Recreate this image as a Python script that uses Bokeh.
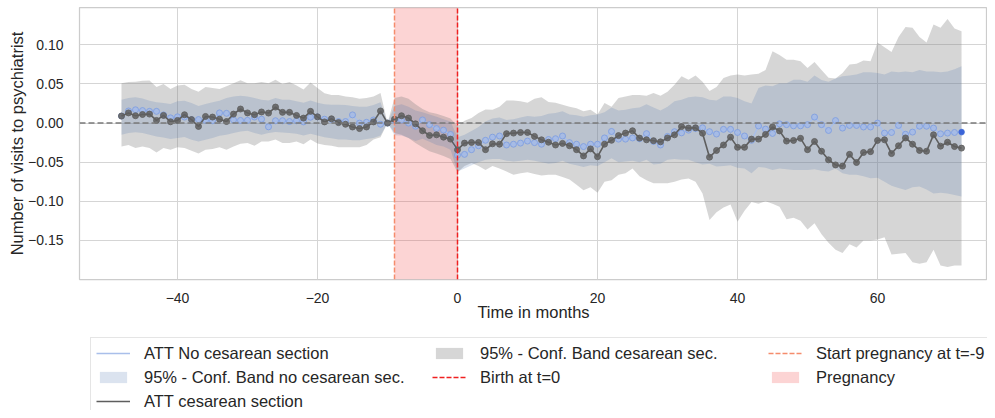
from bokeh.plotting import figure
from bokeh.layouts import column
from bokeh.models import (ColumnDataSource, Span, Legend, LegendItem, FixedTicker,
                          CustomJSTickFormatter, Range1d)
from bokeh.embed import file_html
from bokeh.resources import INLINE

# ---------------- data ----------------
months = list(range(-48, 73))

att_c = [0.009, 0.013, 0.0094, 0.011, 0.0115, 0.0034, 0.0098, 0.0017, 0.0034, 0.0107,
         0.0045, -0.0043, 0.0085, 0.0077, 0.005, 0.002, 0.0115, 0.018, 0.013, 0.0107,
         0.0142, 0.0128, 0.0205, 0.0137, 0.0137, 0.0098, 0.0064, 0.015, 0.008, 0.0015,
         0.0055, 0.0006, -0.0015, -0.005, -0.007, -0.005, 0.0015, 0.0155, 0.0, 0.005,
         0.0094, 0.0064, -0.001, -0.0098, -0.0158, -0.015, -0.018, -0.0205, -0.034, -0.0256,
         -0.0248, -0.0248, -0.034, -0.0265, -0.027, -0.0135, -0.0128, -0.012, -0.012, -0.017,
         -0.0214, -0.0245, -0.028, -0.026, -0.029, -0.034, -0.042, -0.033, -0.043, -0.027,
         -0.022, -0.016, -0.0128, -0.0098, -0.0192, -0.0214, -0.0225, -0.024, -0.019, -0.015,
         -0.0045, -0.0064, -0.006, -0.013, -0.0436, -0.035, -0.028, -0.018, -0.031, -0.031,
         -0.0205, -0.0205, -0.0145, -0.005, -0.01, -0.023, -0.0222, -0.0195, -0.034, -0.0235,
         -0.036, -0.047, -0.0535, -0.055, -0.04, -0.0504, -0.0376, -0.0365, -0.0222, -0.0214,
         -0.039, -0.029, -0.019, -0.027, -0.035, -0.036, -0.015, -0.0295, -0.0245, -0.03,
         -0.032]

att_nc = [0.009, 0.0155, 0.017, 0.016, 0.015, 0.015, 0.0105, 0.0067, 0.008, 0.0077,
          0.0045, 0.0045, 0.0035, 0.003, 0.013, 0.0125, 0.004, 0.0034, 0.0035, 0.0077,
          0.005, -0.0048, 0.003, 0.003, 0.002, 0.003, 0.0015, 0.0075, 0.008, 0.005,
          0.0045, 0.002, 0.002, 0.0105, 0.0, 0.001, 0.004, -0.0015, 0.0, 0.0034,
          0.004, 0.0, -0.004, 0.004, -0.002, -0.007, -0.009, -0.0145, -0.041, -0.04,
          -0.034, -0.029, -0.022, -0.018, -0.0165, -0.028, -0.027, -0.0256, -0.023, -0.025,
          -0.027, -0.021, -0.02, -0.0165, -0.025, -0.027, -0.03, -0.027, -0.027, -0.019,
          -0.0107, -0.0205, -0.0205, -0.019, -0.02, -0.0135, -0.0235, -0.028, -0.017, -0.011,
          -0.0125, -0.009, -0.007, -0.006, -0.011, -0.014, -0.008, -0.008, -0.012, -0.0165,
          -0.022, -0.0037, -0.0077, -0.0132, -0.001, -0.002, -0.0035, -0.0035, -0.002, 0.0077,
          -0.002, -0.0094, 0.0032, -0.0064, -0.003, -0.003, -0.005, -0.005, 0.0, -0.0128,
          -0.012, -0.003, -0.0143, -0.0115, -0.004, -0.004, -0.0064, -0.0137, -0.0128, -0.012,
          -0.0115]

c_hi = [0.051, 0.0526, 0.053, 0.054, 0.0545, 0.046, 0.05, 0.0436, 0.048, 0.049,
        0.0436, 0.04, 0.046, 0.045, 0.0436, 0.047, 0.051, 0.0547, 0.051, 0.051,
        0.0525, 0.051, 0.0555, 0.05, 0.0525, 0.048, 0.043, 0.052, 0.045, 0.038,
        0.036, 0.036, 0.034, 0.033, 0.031, 0.032, 0.034, 0.0385, 0.0, 0.032,
        0.034, 0.031, 0.024, 0.018, 0.014, 0.012, 0.009, 0.006, -0.004, 0.003,
        0.0064, 0.0128, 0.0175, 0.017, 0.021, 0.029, 0.029, 0.028, 0.026, 0.031,
        0.033, 0.027, 0.026, 0.0235, 0.021, 0.019, 0.015, 0.017, 0.011, 0.0256,
        0.021, 0.032, 0.034, 0.036, 0.036, 0.035, 0.0385, 0.035, 0.04, 0.049,
        0.06, 0.0555, 0.061, 0.053, 0.041, 0.046, 0.0575, 0.061, 0.062, 0.061,
        0.062, 0.063, 0.068, 0.092, 0.087, 0.081, 0.081, 0.079, 0.0705, 0.078,
        0.068, 0.058, 0.057, 0.064, 0.075, 0.076, 0.08, 0.079, 0.103, 0.097,
        0.091, 0.11, 0.123, 0.122, 0.11, 0.103, 0.126, 0.122, 0.133, 0.121,
        0.1175]

c_lo = [-0.03, -0.028, -0.032, -0.03, -0.032, -0.0376, -0.032, -0.034, -0.031, -0.032,
        -0.0355, -0.039, -0.034, -0.033, -0.031, -0.034, -0.03, -0.0265, -0.0256, -0.029,
        -0.0235, -0.0235, -0.021, -0.0256, -0.0256, -0.0235, -0.027, -0.021, -0.026, -0.028,
        -0.029, -0.031, -0.031, -0.031, -0.031, -0.028, -0.021, -0.018, 0.0, -0.0128,
        -0.015, -0.019, -0.0256, -0.031, -0.036, -0.039, -0.042, -0.046, -0.063, -0.055,
        -0.051, -0.055, -0.06, -0.055, -0.058, -0.062, -0.066, -0.064, -0.063, -0.065,
        -0.067, -0.066, -0.066, -0.069, -0.072, -0.079, -0.086, -0.082, -0.089, -0.075,
        -0.073, -0.066, -0.064, -0.058, -0.068, -0.073, -0.077, -0.077, -0.077, -0.075,
        -0.072, -0.071, -0.075, -0.09, -0.124, -0.114, -0.108, -0.104, -0.126, -0.112,
        -0.101, -0.103, -0.1, -0.103, -0.107, -0.123, -0.121, -0.125, -0.136, -0.128,
        -0.142, -0.153, -0.162, -0.166, -0.155, -0.159, -0.15, -0.15, -0.149, -0.146,
        -0.168, -0.167, -0.166, -0.178, -0.18, -0.178, -0.162, -0.182, -0.184, -0.182,
        -0.182]

nc_hi = [0.03, 0.032, 0.033, 0.0316, 0.0286, 0.0265, 0.0256, 0.0244, 0.028, 0.0286,
         0.0256, 0.022, 0.0244, 0.0265, 0.0286, 0.032, 0.034, 0.035, 0.034, 0.032,
         0.03, 0.029, 0.032, 0.03, 0.03, 0.028, 0.026, 0.029, 0.026, 0.024,
         0.0235, 0.0235, 0.023, 0.022, 0.021, 0.021, 0.023, 0.0265, 0.0, 0.022,
         0.024, 0.021, 0.016, 0.014, 0.011, 0.008, 0.005, 0.002, -0.018, -0.015,
         -0.01, -0.005, 0.002, 0.006, 0.007, 0.004, 0.005, 0.007, 0.009, 0.008,
         0.009, 0.012, 0.013, 0.015, 0.011, 0.01, 0.008, 0.01, 0.011, 0.014,
         0.02, 0.016, 0.017, 0.019, 0.02, 0.024, 0.02, 0.016, 0.021, 0.028,
         0.03, 0.033, 0.034, 0.033, 0.03, 0.029, 0.034, 0.034, 0.032, 0.028,
         0.025, 0.045, 0.048, 0.047, 0.051, 0.051, 0.0555, 0.0555, 0.053, 0.061,
         0.055, 0.053, 0.057, 0.06, 0.061, 0.062, 0.065, 0.065, 0.064, 0.062,
         0.066, 0.065, 0.066, 0.065, 0.068, 0.066, 0.066, 0.065, 0.066, 0.069,
         0.0726]

nc_lo = [-0.015, -0.0128, -0.0118, -0.0128, -0.015, -0.017, -0.0184, -0.0205, -0.0192, -0.0179,
         -0.0214, -0.0235, -0.0214, -0.0192, -0.0162, -0.015, -0.0128, -0.0107, -0.0098, -0.0128,
         -0.015, -0.0128, -0.0115, -0.012, -0.0128, -0.0137, -0.016, -0.0137, -0.016, -0.018,
         -0.0195, -0.021, -0.021, -0.022, -0.022, -0.0205, -0.019, -0.016, 0.0, -0.0156,
         -0.016, -0.019, -0.023, -0.02, -0.024, -0.028, -0.03, -0.034, -0.062, -0.058,
         -0.054, -0.05, -0.047, -0.046, -0.046, -0.048, -0.049, -0.048, -0.047, -0.048,
         -0.05, -0.052, -0.051, -0.048, -0.052, -0.054, -0.056, -0.054, -0.055, -0.05,
         -0.045, -0.05, -0.049, -0.048, -0.05, -0.047, -0.053, -0.052, -0.047, -0.046,
         -0.047, -0.047, -0.05, -0.053, -0.052, -0.0556, -0.055, -0.054, -0.057, -0.058,
         -0.064, -0.056, -0.057, -0.06, -0.058, -0.059, -0.06, -0.06, -0.06, -0.059,
         -0.061, -0.062, -0.058, -0.064, -0.066, -0.066, -0.068, -0.0705, -0.07, -0.075,
         -0.08, -0.083, -0.0855, -0.082, -0.081, -0.085, -0.09, -0.089, -0.09, -0.092,
         -0.094]

x_ticks = [-40, -20, 0, 20, 40, 60]
y_ticks = [-0.15, -0.10, -0.05, 0.0, 0.05, 0.10]
PREG_START = -9
BIRTH = 0
X_MIN, X_MAX = -54, 75.71
Y_MIN, Y_MAX = -0.2, 0.1478

FONT = "Liberation Sans"
TXT = "#262626"

# styles shared by plot glyphs and legend glyphs
NC_LINE = dict(line_color="#a9bfea", line_width=1.5)
C_LINE = dict(line_color="#5e5e5e", line_width=1.6)
C_BAND = dict(fill_color="#808080", fill_alpha=0.32)
NC_BAND = dict(fill_color="#4c72b0", fill_alpha=0.2)
PREG = dict(fill_color="#f03c3c", fill_alpha=0.22, line_color=None)
START = dict(line_color="#f58c6c", line_dash="5 2", line_width=1.5)
BIRTH_L = dict(line_color="#f02020", line_dash="5 2", line_width=1.5)

src = ColumnDataSource(dict(t=months, att_c=att_c, att_nc=att_nc,
                            c_lo=c_lo, c_hi=c_hi, nc_lo=nc_lo, nc_hi=nc_hi))

p = figure(width=987, height=330, output_backend="svg", toolbar_location=None,
           x_range=Range1d(X_MIN, X_MAX), y_range=Range1d(Y_MIN, Y_MAX),
           min_border_left=79, min_border_right=0, min_border_top=7,
           min_border_bottom=51)
p.background_fill_color = "white"
p.border_fill_color = "white"
p.outline_line_color = "#cccccc"
p.outline_line_width = 1.25

# pregnancy span
p.quad(left=[PREG_START], right=[BIRTH], bottom=[Y_MIN], top=[Y_MAX], **PREG)

# confidence bands
p.varea(x="t", y1="c_lo", y2="c_hi", source=src, **C_BAND)
p.varea(x="t", y1="nc_lo", y2="nc_hi", source=src, **NC_BAND)

# zero line
p.add_layout(Span(location=0, dimension="width", line_color="#7a7a7a",
                  line_dash="6 3", line_width=1.5))

# ATT lines
p.line("t", "att_nc", source=src, **NC_LINE)
p.scatter("t", "att_nc", source=src, marker="circle", size=6,
          fill_color="#a3b9e8", fill_alpha=0.75, line_color="#7f9fe0", line_alpha=0.9)
p.line("t", "att_c", source=src, **C_LINE)
p.scatter("t", "att_c", source=src, marker="circle", size=6,
          fill_color="#5f5f5f", fill_alpha=0.85, line_color="#5f5f5f", line_alpha=0.85)
p.scatter(x=[months[-1]], y=[att_nc[-1]], marker="circle", size=5,
          fill_color="#3b64d8", line_color="#3b64d8")

# vertical event lines
p.line(x=[PREG_START, PREG_START], y=[Y_MIN, Y_MAX], **START)
p.line(x=[BIRTH, BIRTH], y=[Y_MIN, Y_MAX], **BIRTH_L)

# axes
p.xaxis.ticker = FixedTicker(ticks=x_ticks)
p.yaxis.ticker = FixedTicker(ticks=y_ticks)
p.xaxis.formatter = CustomJSTickFormatter(code="return tick.toFixed(0).replace('-', '\u2212');")
p.yaxis.formatter = CustomJSTickFormatter(code="return tick.toFixed(2).replace('-', '\u2212');")
for ax in (p.xaxis, p.yaxis):
    ax.axis_line_color = None
    ax.major_tick_line_color = None
    ax.minor_tick_line_color = None
    ax.major_label_text_font = FONT
    ax.major_label_text_font_size = "14px"
    ax.major_label_text_color = TXT
    ax.axis_label_text_font = FONT
    ax.axis_label_text_font_size = "16.5px"
    ax.axis_label_text_font_style = "normal"
    ax.axis_label_text_color = TXT
p.xaxis.axis_label = "Time in months"
p.yaxis.axis_label = "Number of visits to psychiatrist"
p.xaxis.major_label_standoff = 7
p.xaxis.axis_label_standoff = -3
p.yaxis.major_label_standoff = 10
p.yaxis.axis_label_standoff = -1

p.xgrid.grid_line_color = "#d5d5d5"
p.ygrid.grid_line_color = "#d5d5d5"
p.xgrid.grid_line_width = 1
p.ygrid.grid_line_width = 1

# ---------------- legend (separate strip below the plot) ----------------
lg = figure(width=987, height=80, output_backend="svg", toolbar_location=None,
            x_range=Range1d(0, 1), y_range=Range1d(0, 1), min_border=0)
lg.axis.visible = False
lg.grid.visible = False
lg.outline_line_color = None
lg.background_fill_color = "white"
lg.border_fill_color = "white"

# legend-only glyphs, placed outside the strip's visible range
OFF = [-5.0]
l_nc = lg.line(x=OFF, y=OFF, **NC_LINE)
l_ncb = lg.varea(x=OFF, y1=OFF, y2=OFF, **NC_BAND)
l_c = lg.line(x=OFF, y=OFF, **C_LINE)
l_cb = lg.varea(x=OFF, y1=OFF, y2=OFF, **C_BAND)
l_birth = lg.line(x=OFF, y=OFF, **BIRTH_L)
l_blank = lg.line(x=OFF, y=OFF, line_alpha=0)
l_start = lg.line(x=OFF, y=OFF, **START)
l_preg = lg.quad(left=OFF, right=OFF, bottom=OFF, top=OFF, **PREG)

items = [
    LegendItem(label="ATT No cesarean section", renderers=[l_nc]),
    LegendItem(label="95% - Conf. Band no cesarean sec.", renderers=[l_ncb]),
    LegendItem(label="ATT cesarean section", renderers=[l_c]),
    LegendItem(label="95% - Conf. Band cesarean sec.", renderers=[l_cb]),
    LegendItem(label="Birth at t=0", renderers=[l_birth]),
    LegendItem(label=" ", renderers=[l_blank]),
    LegendItem(label="Start pregnancy at t=-9", renderers=[l_start]),
    LegendItem(label="Pregnancy", renderers=[l_preg]),
]
legend = Legend(items=items, nrows=3, orientation="vertical", location=(11, -7))
legend.label_text_font = FONT
legend.label_text_font_size = "16.5px"
legend.label_text_color = TXT
legend.glyph_width = 34
legend.glyph_height = 14
legend.label_standoff = 14
legend.label_height = 20
legend.label_width = 284
legend.spacing = 4
legend.padding = 5
legend.margin = 0
legend.border_line_color = "#cccccc"
legend.border_line_width = 1
legend.background_fill_color = "white"
legend.background_fill_alpha = 1
lg.add_layout(legend, "center")

layout = column(p, lg, spacing=0)
open("out.html", "w").write(file_html(layout, INLINE))
